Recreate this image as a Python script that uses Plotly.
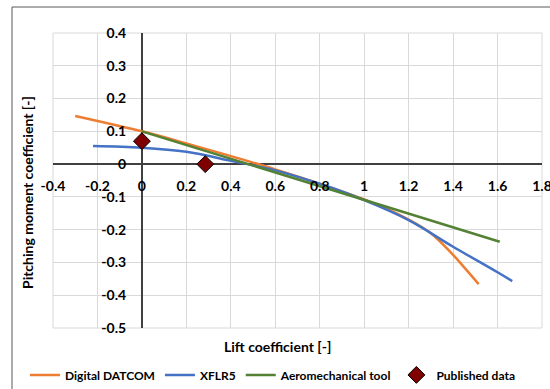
import plotly.graph_objects as go

# Data
datcom_cl = [-0.3, 0.0, 0.2, 0.6, 1.0, 1.2, 1.3, 1.4, 1.45, 1.515]
datcom_cm = [0.147, 0.100, 0.063, -0.016, -0.108, -0.169, -0.211, -0.277, -0.315, -0.366]

xflr5_cl = [-0.22, 0.0, 0.2, 0.4, 0.6, 0.8, 1.0, 1.2, 1.4, 1.6, 1.666]
xflr5_cm = [0.055, 0.050, 0.0375, 0.010, -0.019, -0.060, -0.110, -0.171, -0.252, -0.330, -0.357]

aero_cl = [0.0, 0.4, 0.8, 1.2, 1.61]
aero_cm = [0.100, 0.016, -0.067, -0.150, -0.237]

pub_cl = [0.0, 0.285]
pub_cm = [0.070, 0.0]

x_ticks = [-0.4, -0.2, 0.0, 0.2, 0.4, 0.6, 0.8, 1.0, 1.2, 1.4, 1.6, 1.8]
x_tick_labels = ["-0.4", "-0.2", "0", "0.2", "0.4", "0.6", "0.8", "1", "1.2", "1.4", "1.6", "1.8"]
y_ticks = [-0.5, -0.4, -0.3, -0.2, -0.1, 0.0, 0.1, 0.2, 0.3, 0.4]
y_tick_labels = ["-0.5", "-0.4", "-0.3", "-0.2", "-0.1", "0", "0.1", "0.2", "0.3", "0.4"]

FONT = "Lato"
BOLD = dict(family=FONT, size=14, color="#000000", weight=700)
GRID = "#D9D9D9"

fig = go.Figure()
fig.add_trace(go.Scatter(x=datcom_cl, y=datcom_cm, mode="lines", name="Digital DATCOM",
                         line=dict(color="#ED7D31", width=2.5, shape="spline")))
fig.add_trace(go.Scatter(x=xflr5_cl, y=xflr5_cm, mode="lines", name="XFLR5",
                         line=dict(color="#4472C4", width=2.5, shape="spline")))
fig.add_trace(go.Scatter(x=aero_cl, y=aero_cm, mode="lines", name="Aeromechanical tool",
                         line=dict(color="#548235", width=2.5)))
fig.add_trace(go.Scatter(x=pub_cl, y=pub_cm, mode="markers", name="Published data",
                         marker=dict(symbol="diamond", size=13, color="#7F0000",
                                     line=dict(color="#000000", width=1))))

xpos0 = (0 - (-0.5)) / (0.4 - (-0.5))
ypos0 = (0 - (-0.4)) / (1.8 - (-0.4))

fig.update_layout(
    width=550, height=389,
    margin=dict(l=53, r=8, t=33, b=61, autoexpand=False),
    paper_bgcolor="white", plot_bgcolor="white",
    font=BOLD,
    showlegend=True,
    legend=dict(orientation="h", x=(25 - 53) / 489, xanchor="left", y=-0.159, yanchor="middle",
                font=dict(family=FONT, size=12, color="#000000", weight=700),
                itemwidth=30, tracegroupgap=0),
    xaxis=dict(range=[-0.4, 1.8], tickvals=x_ticks, ticktext=x_tick_labels,
               showgrid=True, gridcolor=GRID, gridwidth=1,
               zeroline=True, zerolinecolor="#404040", zerolinewidth=1.5,
               anchor="free", position=xpos0, automargin=False,
               ticks="outside", ticklen=9, tickcolor="rgba(0,0,0,0)",
               ticklabeloverflow="allow",
               tickfont=BOLD, showline=False),
    yaxis=dict(range=[-0.5, 0.4], tickvals=y_ticks, ticktext=y_tick_labels,
               showgrid=True, gridcolor=GRID, gridwidth=1,
               zeroline=True, zerolinecolor="#404040", zerolinewidth=1.5,
               anchor="free", position=ypos0, automargin=False,
               ticks="outside", ticklen=13, tickcolor="rgba(0,0,0,0)",
               ticklabeloverflow="allow",
               tickfont=BOLD, showline=False),
)

# plot-area edge gridlines
fig.add_shape(type="rect", xref="paper", yref="paper", x0=0, x1=1, y0=0, y1=1,
              line=dict(color=GRID, width=1), fillcolor="rgba(0,0,0,0)", layer="below")

# outer chart border
fig.add_shape(type="rect", xref="paper", yref="paper",
              x0=(12 - 53) / 489, x1=1.1, y0=-0.4, y1=(328 - 7) / 295,
              line=dict(color="#595959", width=1), fillcolor="rgba(0,0,0,0)", layer="below")

fig.add_annotation(text="Lift coefficient [-]", xref="paper", yref="paper",
                   x=(277 - 53) / 489, y=(328 - 346) / 295, showarrow=False,
                   xanchor="center", yanchor="middle", font=BOLD)
fig.add_annotation(text="Pitching moment coefficient [-]", xref="paper", yref="paper",
                   x=(27 - 53) / 489, y=(328 - 193) / 295, showarrow=False, textangle=-90,
                   xanchor="center", yanchor="middle", font=BOLD)

fig.write_html("out.html", config={"displayModeBar": False},
               post_script="document.body.style.margin='0';document.body.style.overflow='hidden';")
